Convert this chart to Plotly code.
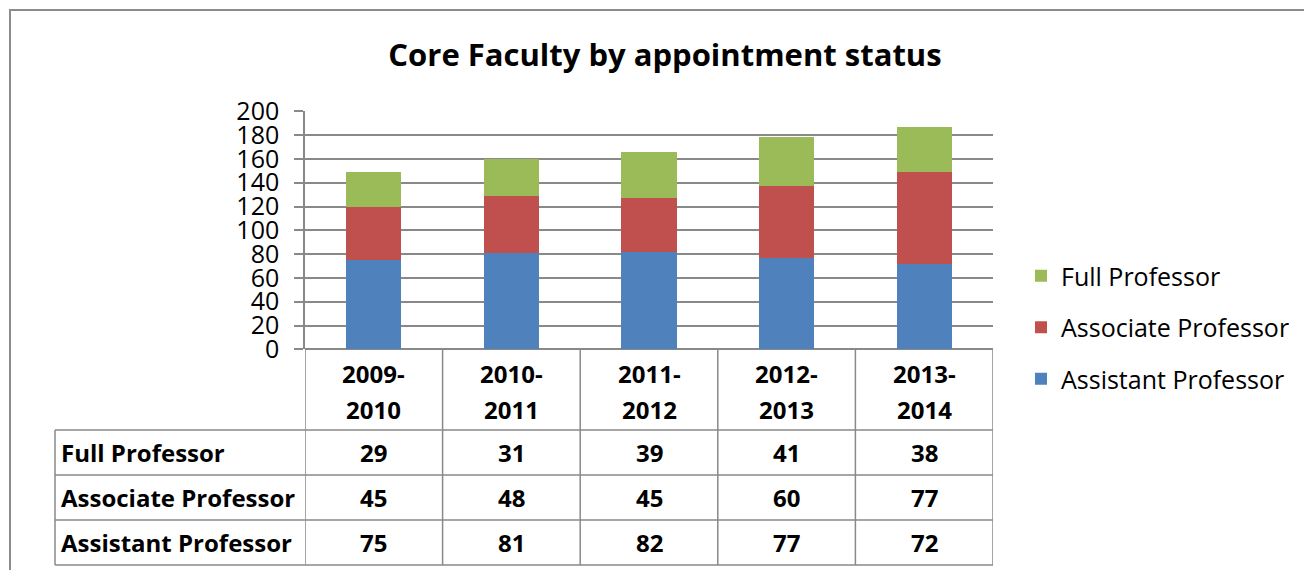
import plotly.graph_objects as go

categories = ["2009-2010", "2010-2011", "2011-2012", "2012-2013", "2013-2014"]
full_prof = [29, 31, 39, 41, 38]
assoc_prof = [45, 48, 45, 60, 77]
asst_prof = [75, 81, 82, 77, 72]
series_names = ["Assistant Professor", "Associate Professor", "Full Professor"]
series_values = [asst_prof, assoc_prof, full_prof]
series_colors = ["#4F81BD", "#C0504D", "#9BBB59"]
legend_ranks = [3, 2, 1]
y_ticks = [0, 20, 40, 60, 80, 100, 120, 140, 160, 180, 200]

W, H = 1304, 570
def px(x):
    return x / W
def py(y):
    return 1 - y / H

GRID = "#898989"
FONT = "Open Sans"

fig = go.Figure()
for name, vals, col, rk in zip(series_names, series_values, series_colors, legend_ranks):
    fig.add_trace(go.Bar(
        x=list(range(len(categories))), y=vals, name=name,
        marker=dict(color=col, line=dict(width=0)),
        width=0.4, legendgroup=name, legendrank=rk,
        hovertext=categories,
    ))

x_left, x_right = 305, 993
y_top, y_zero = 111.3, 349.3

shapes = []
# outer chart border
shapes.append(dict(type="rect", xref="paper", yref="paper",
                   x0=px(10), x1=px(1330), y0=py(10), y1=py(600),
                   line=dict(color="#8c8c8c", width=2)))
# table horizontal lines
for yy in [430, 475, 520, 565]:
    shapes.append(dict(type="line", xref="paper", yref="paper",
                       x0=px(55), x1=px(x_right), y0=py(yy), y1=py(yy),
                       line=dict(color=GRID, width=1.5)))
# table vertical lines at category boundaries
for i in range(len(categories) + 1):
    shapes.append(dict(type="line", xref="x", yref="paper",
                       x0=i - 0.5, x1=i - 0.5, y0=py(y_zero), y1=py(565),
                       line=dict(color=GRID, width=1.5)))
shapes.append(dict(type="line", xref="paper", yref="paper",
                   x0=px(55), x1=px(55), y0=py(430), y1=py(565),
                   line=dict(color=GRID, width=1.5)))

annotations = []
TFONT = dict(family=FONT, size=24, color="black")
# category headers (two lines, split at the hyphen)
for i, cat in enumerate(categories):
    first, second = cat.split("-")
    for txt, yy in [(first + "-", 373), (second, 409)]:
        annotations.append(dict(x=i, xref="x", y=py(yy), yref="paper",
                                text="<b>" + txt + "</b>", showarrow=False,
                                font=TFONT, xanchor="center", yanchor="middle"))
row_names = ["Full Professor", "Associate Professor", "Assistant Professor"]
row_vals = [full_prof, assoc_prof, asst_prof]
row_centers = [452, 497, 542]
for rn, rv, yc in zip(row_names, row_vals, row_centers):
    annotations.append(dict(x=px(59), xref="paper", y=py(yc), yref="paper",
                            text="<b>" + rn + "</b>", showarrow=False,
                            font=TFONT, xanchor="left", yanchor="middle"))
    for i, v in enumerate(rv):
        annotations.append(dict(x=i, xref="x", y=py(yc), yref="paper",
                                text="<b>" + str(v) + "</b>", showarrow=False,
                                font=TFONT, xanchor="center", yanchor="middle"))

fig.update_layout(
    width=W, height=H,
    margin=dict(l=0, r=0, t=0, b=0, autoexpand=False),
    paper_bgcolor="white", plot_bgcolor="white",
    barmode="stack",
    title=dict(text="<b>Core Faculty by appointment status</b>",
               x=px(665), xanchor="center", y=py(55), yanchor="middle",
               font=dict(family=FONT, size=31, color="black")),
    xaxis=dict(domain=[px(x_left), px(x_right)], range=[-0.5, 4.5],
               showticklabels=False, showgrid=False, zeroline=False,
               showline=False, fixedrange=True, automargin=False),
    yaxis=dict(domain=[py(y_zero), py(y_top)], range=[0, 200],
               tickvals=y_ticks, showgrid=True, gridcolor=GRID, gridwidth=1.5,
               zeroline=True, zerolinecolor=GRID, zerolinewidth=1.5,
               showline=True, linecolor=GRID, linewidth=1.5,
               ticks="outside", ticklen=9, tickcolor=GRID, tickwidth=1.5,
               ticklabelstandoff=10, automargin=False,
               tickfont=dict(family=FONT, size=25, color="black")),
    legend=dict(x=px(1021), xanchor="left", y=py(253), yanchor="top",
                traceorder="grouped", tracegroupgap=16,
                font=dict(family=FONT, size=25, color="black"),
                bgcolor="rgba(0,0,0,0)", itemwidth=30),
    shapes=shapes,
    annotations=annotations,
    showlegend=True,
)
fig.write_html(
    "out.html",
    config={"displayModeBar": False},
    post_script=("document.body.style.margin='0px';"
                 "document.body.style.overflow='hidden';"
                 "document.documentElement.style.overflow='hidden';"),
)
